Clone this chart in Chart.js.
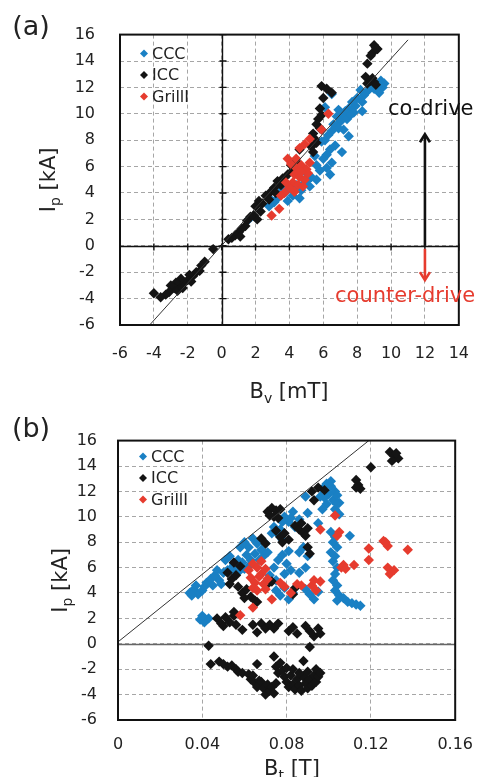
<!DOCTYPE html>
<html>
<head>
<meta charset="utf-8">
<script src="https://cdn.jsdelivr.net/npm/chart.js@4/dist/chart.umd.min.js"></script>
<style>
  html, body { margin: 0; padding: 0; background: #fff; }
  canvas { display: block; }
</style>
</head>
<body>
<canvas id="chartA" width="488" height="410"></canvas>
<canvas id="chartB" width="488" height="367"></canvas>
<script>
// series names and tick labels
const seriesNames = ['CCC', 'ICC', 'GrillI'];
const ipTicks = [-6, -4, -2, 0, 2, 4, 6, 8, 10, 12, 14, 16];
const bvTicks = [-6, -4, -2, 0, 2, 4, 6, 8, 10, 12, 14];
const btTicks = [0, 0.04, 0.08, 0.12, 0.16];

// (a) Ip vs Bv  [mT, kA]
const cccA = [[9.6,12.3],[9.5,12.0],[9.4,12.5],[9.2,12.1],[9.0,11.9],[8.8,12.2],[8.6,11.7],[8.4,11.4],[8.2,11.8],
  [8.0,11.2],[8.3,10.9],[7.9,10.6],[7.7,10.9],[7.5,10.4],[7.8,10.1],[7.3,10.2],[7.1,9.9],[7.4,9.6],[7.0,9.4],
  [6.8,9.8],[6.6,9.2],[6.9,8.9],[6.5,8.7],[7.2,8.8],[7.5,8.3],[6.3,8.4],[6.1,8.0],[5.9,7.9],[6.7,7.6],[7.1,7.1],
  [6.4,7.3],[6.2,6.9],[6.0,6.6],[6.5,6.3],[6.2,5.9],[5.8,5.7],[6.4,5.4],[5.6,6.1],[5.3,5.2],[5.0,5.5],[4.9,4.8],
  [5.2,4.5],[4.7,4.2],[5.6,5.0],[4.4,4.6],[4.2,3.8],[4.6,3.6],[3.9,3.4],[3.4,3.9],[3.1,3.3],[2.8,3.0],[3.6,4.3],
  [6.1,10.5],[6.5,11.5],[5.5,6.8],[5.9,8.8],[3.8,4.1],[1.6,2.0],[8.3,10.2],[9.3,11.6],[7.6,9.9],[6.9,10.3],
  [5.1,5.0],[4.1,4.4],[3.3,3.6],[2.9,3.5]];
const iccA = [[9.0,15.2],[9.2,14.9],[8.9,14.6],[9.1,15.0],[8.8,14.4],[8.6,13.8],[8.5,12.8],[8.8,12.5],[9.0,12.4],
  [8.6,12.3],[8.9,12.7],[9.1,12.2],[5.9,12.1],[6.2,11.9],[6.5,11.6],[6.0,11.2],[5.8,10.4],[5.7,9.6],[5.6,9.2],
  [5.8,8.9],[5.9,9.9],[5.4,8.5],[5.5,8.1],[5.6,7.8],[5.4,7.1],[5.3,7.5],[4.6,7.3],[4.4,6.4],[4.1,6.1],[4.2,5.7],
  [3.9,5.4],[3.6,5.1],[3.3,4.9],[3.5,4.6],[3.1,4.4],[2.9,4.1],[3.2,4.0],[2.6,3.8],[2.8,3.5],[2.4,3.2],[2.2,3.4],
  [2.0,3.0],[2.3,2.6],[1.9,2.3],[2.1,2.0],[1.7,2.2],[1.5,1.9],[1.4,1.5],[1.2,1.3],[1.0,1.0],[0.8,0.8],[0.6,0.6],
  [1.1,0.7],[0.4,0.5],[-0.5,-0.25],[-1.0,-1.2],[-1.2,-1.5],[-1.3,-1.9],[-1.5,-2.0],[-1.7,-2.3],[-1.9,-2.2],
  [-2.0,-2.6],[-2.2,-2.8],[-2.4,-2.5],[-2.5,-3.0],[-2.7,-2.8],[-2.8,-3.2],[-3.0,-3.0],[-3.1,-3.5],[-2.6,-3.4],
  [-3.3,-3.7],[-3.6,-3.9],[-4.0,-3.6],[-2.3,-3.2],[-1.8,-2.7]];
const grillA = [[6.3,10.0],[5.9,8.8],[5.2,8.1],[4.6,7.4],[4.9,7.7],[3.9,6.6],[4.1,6.2],[4.4,5.9],[4.7,6.1],[5.0,5.8],
  [4.3,5.4],[4.6,5.2],[4.9,5.0],[5.1,5.5],[4.2,4.8],[4.5,4.6],[4.0,4.4],[3.7,4.0],[4.3,4.1],[3.5,3.8],[3.4,2.8],
  [2.95,2.3],[4.8,4.5],[5.2,6.3],[4.4,6.6],[3.8,4.8],[4.7,5.6]];
const fitA = [[-4.25,-6],[11.0,15.6]];

// (b) Ip vs Bt  [T, kA]
const cccB = [[0.097,12.2],[0.099,12.6],[0.101,12.4],[0.103,12.0],[0.100,11.8],[0.098,11.5],[0.102,11.3],
  [0.104,11.7],[0.105,11.1],[0.099,11.0],[0.096,11.6],[0.101,12.8],[0.089,11.6],[0.097,10.6],[0.090,10.3],
  [0.103,10.6],[0.105,10.2],[0.104,11.0],[0.095,9.5],[0.101,8.8],[0.103,8.4],[0.102,8.0],[0.104,7.6],[0.101,7.2],
  [0.103,6.9],[0.102,6.5],[0.104,6.0],[0.103,5.5],[0.102,5.0],[0.104,4.6],[0.103,4.2],[0.105,3.8],[0.104,3.4],
  [0.110,8.5],[0.081,9.6],[0.084,9.2],[0.086,9.8],[0.083,10.4],[0.079,10.0],[0.078,9.6],[0.082,9.9],[0.074,9.2],
  [0.076,8.6],[0.078,8.2],[0.073,8.7],[0.077,9.0],[0.058,7.6],[0.060,8.0],[0.062,7.6],[0.064,8.3],[0.066,7.9],
  [0.068,7.4],[0.070,7.9],[0.061,7.0],[0.063,6.6],[0.065,7.1],[0.067,6.6],[0.069,6.9],[0.059,6.4],[0.071,7.2],
  [0.062,6.1],[0.060,5.9],[0.051,6.6],[0.053,6.9],[0.055,6.3],[0.057,6.6],[0.052,5.8],[0.054,6.0],[0.056,5.6],
  [0.058,5.8],[0.042,4.8],[0.044,5.1],[0.046,5.4],[0.048,5.0],[0.045,4.6],[0.050,5.6],[0.047,5.8],[0.049,4.7],
  [0.034,4.0],[0.036,4.3],[0.038,3.9],[0.040,4.2],[0.037,4.6],[0.035,3.8],[0.041,4.5],[0.072,5.4],[0.074,6.0],
  [0.076,6.6],[0.078,7.0],[0.080,6.3],[0.082,5.8],[0.075,5.0],[0.079,5.5],[0.081,7.3],[0.086,7.2],[0.088,7.6],
  [0.090,6.9],[0.086,5.6],[0.089,6.0],[0.075,4.2],[0.077,3.8],[0.079,4.4],[0.081,3.5],[0.083,4.0],[0.089,4.3],
  [0.091,3.9],[0.093,3.5],[0.095,4.1],[0.107,3.6],[0.109,3.3],[0.111,3.2],[0.113,3.1],[0.115,3.0],[0.039,1.9],
  [0.041,1.7],[0.043,2.0],[0.040,2.2]];
const iccB = [[0.129,15.1],[0.131,14.8],[0.133,14.6],[0.130,14.4],[0.132,15.0],[0.120,13.9],[0.113,12.9],
  [0.114,12.5],[0.115,12.2],[0.113,12.3],[0.092,12.0],[0.095,12.3],[0.098,12.1],[0.093,11.3],[0.071,10.4],
  [0.073,10.7],[0.075,10.5],[0.077,10.6],[0.074,10.0],[0.076,9.9],[0.072,10.1],[0.084,9.3],[0.086,9.0],
  [0.088,8.7],[0.090,9.1],[0.087,9.5],[0.089,8.5],[0.075,8.9],[0.077,8.4],[0.079,8.7],[0.081,8.2],[0.078,8.0],
  [0.068,8.3],[0.070,7.9],[0.090,7.6],[0.091,7.1],[0.055,6.4],[0.058,6.1],[0.052,5.6],[0.054,5.1],[0.053,4.7],
  [0.056,5.4],[0.057,4.5],[0.059,4.0],[0.061,4.3],[0.063,3.7],[0.060,3.6],[0.066,3.3],[0.071,4.7],[0.073,4.9],
  [0.083,3.9],[0.084,4.4],[0.047,2.0],[0.049,1.6],[0.051,2.1],[0.053,1.7],[0.055,2.2],[0.056,1.5],[0.050,1.4],
  [0.059,1.1],[0.064,1.5],[0.066,0.9],[0.068,1.6],[0.070,1.2],[0.072,1.5],[0.074,1.2],[0.076,1.6],[0.081,1.0],
  [0.083,1.3],[0.085,0.8],[0.089,1.4],[0.091,1.0],[0.093,0.6],[0.095,1.2],[0.096,0.8],[0.065,3.4],[0.055,2.5],
  [0.043,-0.15],[0.091,-0.25],[0.044,-1.6],[0.048,-1.4],[0.050,-1.6],[0.052,-1.8],[0.054,-1.7],[0.056,-2.0],
  [0.057,-2.2],[0.059,-2.3],[0.066,-1.6],[0.062,-2.4],[0.063,-2.8],[0.064,-2.5],[0.065,-3.1],[0.067,-2.9],
  [0.066,-3.4],[0.068,-3.0],[0.069,-3.5],[0.070,-4.0],[0.071,-3.2],[0.072,-3.7],[0.073,-3.4],[0.074,-3.9],
  [0.075,-3.1],[0.074,-1.0],[0.075,-1.8],[0.076,-2.3],[0.077,-1.5],[0.078,-2.1],[0.079,-2.6],[0.080,-3.0],
  [0.081,-3.4],[0.082,-2.5],[0.083,-3.2],[0.084,-3.6],[0.085,-2.8],[0.086,-3.3],[0.087,-3.7],[0.088,-2.6],
  [0.088,-1.35],[0.089,-3.1],[0.090,-3.5],[0.091,-2.8],[0.092,-3.3],[0.093,-2.5],[0.094,-2.0],[0.094,-3.0],
  [0.095,-2.6],[0.096,-2.3],[0.086,-2.3],[0.090,-2.2],[0.083,-2.0],[0.080,-1.9]];
const grillB = [[0.062,5.8],[0.064,6.3],[0.066,6.0],[0.068,5.5],[0.070,5.9],[0.063,5.2],[0.065,4.8],[0.067,5.3],
  [0.069,4.7],[0.071,5.1],[0.064,4.4],[0.066,4.2],[0.068,6.5],[0.070,4.3],[0.077,4.8],[0.079,4.5],[0.073,3.5],
  [0.064,2.85],[0.058,2.25],[0.085,4.7],[0.087,4.6],[0.082,4.0],[0.092,4.6],[0.094,4.2],[0.096,4.9],[0.093,5.0],
  [0.096,9.0],[0.103,10.1],[0.105,8.8],[0.104,8.5],[0.107,6.2],[0.126,8.1],[0.128,7.7],[0.119,7.5],[0.1375,7.4],
  [0.119,6.6],[0.112,6.2],[0.106,6.0],[0.108,5.9],[0.128,6.0],[0.129,5.5],[0.131,5.8],[0.127,8.0]];
const fitB = [[0,0.15],[0.119,16]];

const colors = { CCC: '#1a80c4', ICC: '#141414', GrillI: '#e63b2e' };
const red = '#e63b2e';
const FONT = '"DejaVu Sans", Verdana, sans-serif';

const toPts = arr => arr.map(p => ({ x: p[0], y: p[1] }));

function series(name, arr) {
  return {
    label: name,
    data: toPts(arr),
    backgroundColor: colors[name],
    borderColor: colors[name],
    pointStyle: 'rectRot',
    pointRadius: 5.2,
    pointBorderWidth: 0,
    pointHoverRadius: 5.2
  };
}

// text with a subscript: main, sub, rest
function subText(ctx, x, y, main, sub, rest, size, align) {
  const small = Math.round(size * 0.68);
  ctx.font = size + 'px ' + FONT;
  const w1 = ctx.measureText(main).width;
  const w3 = ctx.measureText(rest).width;
  ctx.font = small + 'px ' + FONT;
  const w2 = ctx.measureText(sub).width;
  const x0 = align === 'center' ? x - (w1 + w2 + w3) / 2 : x;
  ctx.textAlign = 'left';
  ctx.textBaseline = 'alphabetic';
  ctx.font = size + 'px ' + FONT;
  ctx.fillText(main, x0, y);
  ctx.fillText(rest, x0 + w1 + w2, y);
  ctx.font = small + 'px ' + FONT;
  ctx.fillText(sub, x0 + w1, y + size * 0.24);
}

function makeDecor(cfg) {
  return {
    id: 'decor',
    beforeDatasetsDraw(chart) {
      const { ctx, chartArea: a, scales: { x, y } } = chart;
      ctx.save();
      const y0 = Math.round(y.getPixelForValue(0)) + 0.5;
      ctx.strokeStyle = cfg.zeroColor;
      ctx.lineWidth = 1.4;
      ctx.beginPath();
      ctx.moveTo(a.left, y0); ctx.lineTo(a.right, y0);
      if (cfg.zeroX) {
        const x0 = Math.round(x.getPixelForValue(0)) + 0.5;
        ctx.moveTo(x0, a.top); ctx.lineTo(x0, a.bottom);
        // small tick marks on the zero axes
        cfg.xTicks.forEach(v => {
          const px = x.getPixelForValue(v);
          ctx.moveTo(px, y0 - 3); ctx.lineTo(px, y0 + 4);
        });
        ipTicks.forEach(v => {
          const py = y.getPixelForValue(v);
          ctx.moveTo(x0 - 3, py); ctx.lineTo(x0 + 4, py);
        });
      }
      ctx.stroke();
      ctx.restore();
    },
    afterDraw(chart) {
      const { ctx, chartArea: a, scales: { x, y } } = chart;
      ctx.save();
      // frame
      ctx.strokeStyle = '#111';
      ctx.lineWidth = 2;
      ctx.strokeRect(a.left, a.top, a.right - a.left, a.bottom - a.top);

      // legend inside plot
      ctx.font = '16px ' + FONT;
      seriesNames.forEach((name, i) => {
        const cx = a.left + cfg.legX, cy = a.top + cfg.legY + i * 21.5;
        ctx.fillStyle = colors[name];
        ctx.beginPath();
        ctx.moveTo(cx, cy - 4); ctx.lineTo(cx + 4, cy); ctx.lineTo(cx, cy + 4); ctx.lineTo(cx - 4, cy);
        ctx.closePath(); ctx.fill();
        ctx.fillStyle = '#222';
        ctx.textAlign = 'left'; ctx.textBaseline = 'middle';
        ctx.fillText(name, cx + 8, cy + 1);
      });

      // panel letter
      ctx.fillStyle = '#222';
      ctx.font = '27px ' + FONT;
      ctx.textAlign = 'center'; ctx.textBaseline = 'middle';
      ctx.fillText(cfg.letter, 31, cfg.letterY);

      // axis titles
      subText(ctx, cfg.xTitleX, cfg.xTitleY, 'B', cfg.xSub, cfg.xUnit, 21, 'center');
      ctx.save();
      ctx.translate(cfg.yTitleX, (a.top + a.bottom) / 2);
      ctx.rotate(-Math.PI / 2);
      subText(ctx, 0, 0, 'I', 'p', ' [kA]', 21, 'center');
      ctx.restore();

      if (cfg.arrows) {
        const ax = x.getPixelForValue(12);
        const y0 = y.getPixelForValue(0);
        const yUp = y.getPixelForValue(8.45);
        const yDn = y.getPixelForValue(-2.6);
        ctx.lineWidth = 2.6;
        ctx.strokeStyle = '#111';
        ctx.beginPath();
        ctx.moveTo(ax, y0); ctx.lineTo(ax, yUp + 1);
        ctx.stroke();
        ctx.beginPath();
        ctx.moveTo(ax - 5, yUp + 8); ctx.lineTo(ax, yUp); ctx.lineTo(ax + 5, yUp + 8);
        ctx.stroke();
        ctx.strokeStyle = red;
        ctx.beginPath();
        ctx.moveTo(ax, y0 + 3); ctx.lineTo(ax, yDn - 1);
        ctx.stroke();
        ctx.beginPath();
        ctx.moveTo(ax - 5, yDn - 8); ctx.lineTo(ax, yDn); ctx.lineTo(ax + 5, yDn - 8);
        ctx.stroke();
        ctx.font = '21px ' + FONT;
        ctx.textAlign = 'left'; ctx.textBaseline = 'alphabetic';
        ctx.fillStyle = '#111';
        ctx.fillText('co-drive', 388, 115);
        ctx.fillStyle = red;
        ctx.fillText('counter-drive', 335, 302);
      }
      ctx.restore();
    }
  };
}

function panel(id, cfg) {
  return new Chart(document.getElementById(id), {
    type: 'scatter',
    data: {
      datasets: [
        { label: 'fit', data: toPts(cfg.fit), showLine: true, borderColor: '#333', borderWidth: 1,
          pointRadius: 0, pointHoverRadius: 0, fill: false },
        series('GrillI', cfg.grill),
        series('ICC', cfg.icc),
        series('CCC', cfg.ccc)
      ]
    },
    options: {
      responsive: false,
      animation: false,
      devicePixelRatio: 1,
      layout: { padding: { top: cfg.top, right: 21, left: 0, bottom: 0 } },
      plugins: { legend: { display: false }, tooltip: { enabled: false } },
      scales: {
        x: {
          type: 'linear',
          min: cfg.xTicks[0], max: cfg.xTicks[cfg.xTicks.length - 1],
          afterBuildTicks: s => { s.ticks = cfg.xTicks.map(v => ({ value: v })); },
          afterFit: s => { s.height = cfg.xAxisH; },
          grid: { color: '#a6a6a6', lineWidth: 1, drawTicks: false },
          border: { display: false, dash: [4, 3] },
          ticks: { padding: cfg.xPad, color: '#222', font: { family: FONT, size: 16 },
                   maxRotation: 0, autoSkip: false, callback: v => String(v) }
        },
        y: {
          type: 'linear',
          min: ipTicks[0], max: ipTicks[ipTicks.length - 1],
          afterBuildTicks: s => { s.ticks = ipTicks.map(v => ({ value: v })); },
          afterFit: s => { s.width = cfg.left; },
          grid: { color: '#a6a6a6', lineWidth: 1, drawTicks: false },
          border: { display: false, dash: [4, 3] },
          ticks: { padding: cfg.yPad, color: '#222', font: { family: FONT, size: 16 },
                   autoSkip: false, callback: v => String(v) }
        }
      }
    },
    plugins: [makeDecor(cfg)]
  });
}

panel('chartA', {
  ccc: cccA, icc: iccA, grill: grillA, fit: fitA, xTicks: bvTicks,
  top: 20, left: 120, xAxisH: 85, xPad: 19, yPad: 25,
  zeroColor: '#111', zeroX: true, arrows: true,
  legX: 24, legY: 19, letter: '(a)', letterY: 28,
  xTitleX: 289, xTitleY: 398, xSub: 'v', xUnit: ' [mT]', yTitleX: 55
});

panel('chartB', {
  ccc: cccB, icc: iccB, grill: grillB, fit: fitB, xTicks: btTicks,
  top: 17, left: 118, xAxisH: 57, xPad: 15, yPad: 21,
  zeroColor: '#666', zeroX: false, arrows: false,
  legX: 25, legY: 16, letter: '(b)', letterY: 20,
  xTitleX: 292, xTitleY: 365, xSub: 't', xUnit: ' [T]', yTitleX: 67
});
</script>
</body>
</html>
